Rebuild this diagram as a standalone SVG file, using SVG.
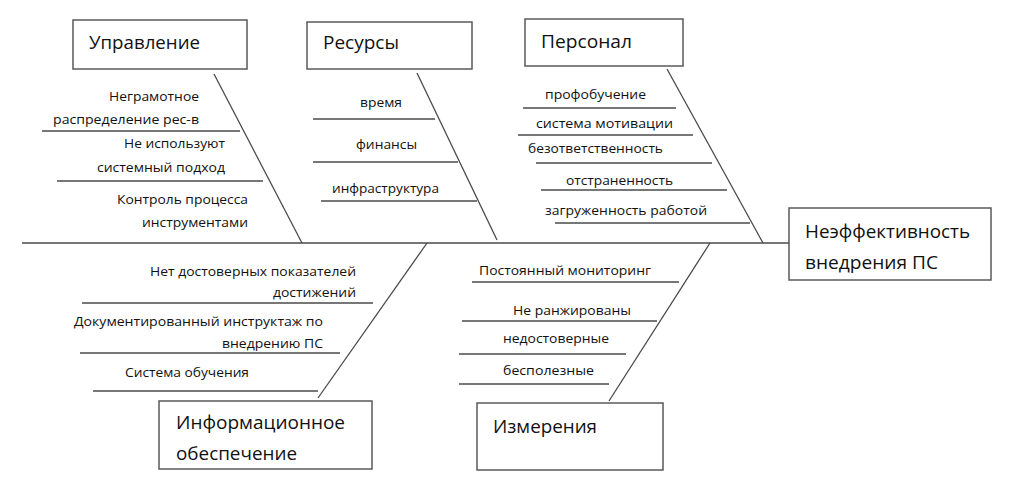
<svg xmlns="http://www.w3.org/2000/svg" width="1020" height="480" viewBox="0 0 1020 480">
<style>
.box{fill:#fff;stroke:#5a5a5a;stroke-width:1.5}
.ln{stroke:#4a4a4a;stroke-width:1.3;fill:none}
.h{font-family:"Open Sans","Noto Sans",sans-serif;font-size:18px;fill:#111}
.t{font-family:"Open Sans","Noto Sans",sans-serif;font-size:13px;fill:#111}
.e{text-anchor:end}
.m{text-anchor:middle}
</style>
<rect width="1020" height="480" fill="#fff"/>
<g id="connectors">
<line class="ln" x1="22" y1="243" x2="789" y2="243"/>
<line class="ln" x1="214" y1="74" x2="302" y2="243"/>
<line class="ln" x1="417" y1="73" x2="497" y2="240"/>
<line class="ln" x1="667" y1="69" x2="763" y2="243"/>
<line class="ln" x1="427" y1="243" x2="318" y2="398"/>
<line class="ln" x1="710" y1="243" x2="609" y2="401"/>
<line class="ln" x1="42" y1="131" x2="240" y2="131"/>
<line class="ln" x1="57" y1="181" x2="263" y2="181"/>
<line class="ln" x1="313" y1="119" x2="435" y2="119"/>
<line class="ln" x1="313" y1="162" x2="458" y2="162"/>
<line class="ln" x1="321" y1="201" x2="477" y2="201"/>
<line class="ln" x1="523" y1="108" x2="676" y2="108"/>
<line class="ln" x1="518" y1="135" x2="693" y2="135"/>
<line class="ln" x1="536" y1="163" x2="712" y2="163"/>
<line class="ln" x1="541" y1="190" x2="727" y2="190"/>
<line class="ln" x1="555" y1="223" x2="750" y2="223"/>
<line class="ln" x1="82" y1="303" x2="373" y2="303"/>
<line class="ln" x1="80" y1="353" x2="340" y2="353"/>
<line class="ln" x1="93" y1="391" x2="318" y2="391"/>
<line class="ln" x1="472" y1="282" x2="679" y2="282"/>
<line class="ln" x1="462" y1="321" x2="657" y2="321"/>
<line class="ln" x1="459" y1="354" x2="626" y2="354"/>
<line class="ln" x1="459" y1="384" x2="609" y2="384"/>
</g>
<g id="upravlenie">
<rect class="box" x="73" y="20" width="174" height="49"/>
<text class="h" x="89" y="49" textLength="111" lengthAdjust="spacingAndGlyphs">Управление</text>
<text class="t e" x="199" y="101" textLength="90" lengthAdjust="spacingAndGlyphs">Неграмотное</text>
<text class="t e" x="199" y="124" textLength="146" lengthAdjust="spacingAndGlyphs">распределение рес-в</text>
<text class="t e" x="225" y="148" textLength="101" lengthAdjust="spacingAndGlyphs">Не используют</text>
<text class="t e" x="225" y="172" textLength="128" lengthAdjust="spacingAndGlyphs">системный подход</text>
<text class="t e" x="248" y="204" textLength="131" lengthAdjust="spacingAndGlyphs">Контроль процесса</text>
<text class="t e" x="248" y="227" textLength="106" lengthAdjust="spacingAndGlyphs">инструментами</text>
</g>
<g id="resursy">
<rect class="box" x="307" y="22" width="165" height="47"/>
<text class="h" x="323" y="49" textLength="76" lengthAdjust="spacingAndGlyphs">Ресурсы</text>
<text class="t" x="360" y="107" textLength="42" lengthAdjust="spacingAndGlyphs">время</text>
<text class="t" x="356" y="149" textLength="61" lengthAdjust="spacingAndGlyphs">финансы</text>
<text class="t" x="332" y="193" textLength="107" lengthAdjust="spacingAndGlyphs">инфраструктура</text>
</g>
<g id="personal">
<rect class="box" x="525" y="19" width="158" height="47"/>
<text class="h" x="541" y="48" textLength="91" lengthAdjust="spacingAndGlyphs">Персонал</text>
<text class="t" x="545" y="99" textLength="101" lengthAdjust="spacingAndGlyphs">профобучение</text>
<text class="t" x="536" y="128" textLength="137" lengthAdjust="spacingAndGlyphs">система мотивации</text>
<text class="t" x="528" y="153" textLength="135" lengthAdjust="spacingAndGlyphs">безответственность</text>
<text class="t" x="566" y="185" textLength="107" lengthAdjust="spacingAndGlyphs">отстраненность</text>
<text class="t" x="545" y="215" textLength="162" lengthAdjust="spacingAndGlyphs">загруженность работой</text>
</g>
<g id="effect">
<rect class="box" x="789" y="208" width="202" height="72"/>
<text class="h" x="805" y="238" textLength="165" lengthAdjust="spacingAndGlyphs">Неэффективность</text>
<text class="h" x="805" y="269" textLength="133" lengthAdjust="spacingAndGlyphs">внедрения ПС</text>
</g>
<g id="info">
<rect class="box" x="159" y="401" width="213" height="68"/>
<text class="h" x="176" y="429" textLength="169" lengthAdjust="spacingAndGlyphs">Информационное</text>
<text class="h" x="176" y="460" textLength="121" lengthAdjust="spacingAndGlyphs">обеспечение</text>
<text class="t e" x="356" y="276" textLength="206" lengthAdjust="spacingAndGlyphs">Нет достоверных показателей</text>
<text class="t e" x="356" y="297" textLength="83" lengthAdjust="spacingAndGlyphs">достижений</text>
<text class="t" x="74" y="326" textLength="249" lengthAdjust="spacingAndGlyphs">Документированный инструктаж по</text>
<text class="t e" x="323" y="348" textLength="101" lengthAdjust="spacingAndGlyphs">внедрению ПС</text>
<text class="t" x="125" y="377" textLength="124" lengthAdjust="spacingAndGlyphs">Система обучения</text>
</g>
<g id="izmereniya">
<rect class="box" x="477" y="403" width="186" height="67"/>
<text class="h" x="493" y="433" textLength="104" lengthAdjust="spacingAndGlyphs">Измерения</text>
<text class="t" x="479" y="275" textLength="172" lengthAdjust="spacingAndGlyphs">Постоянный мониторинг</text>
<text class="t" x="513" y="315" textLength="118" lengthAdjust="spacingAndGlyphs">Не ранжированы</text>
<text class="t" x="503" y="343" textLength="106" lengthAdjust="spacingAndGlyphs">недостоверные</text>
<text class="t" x="503" y="375" textLength="91" lengthAdjust="spacingAndGlyphs">бесполезные</text>
</g>
</svg>
